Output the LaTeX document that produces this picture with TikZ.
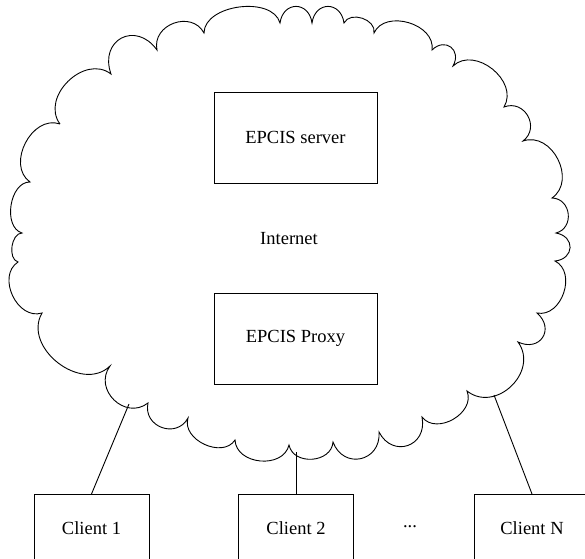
\documentclass[tikz,border=0pt]{standalone}
\usepackage{fontspec}
\setmainfont{Liberation Serif}
\usetikzlibrary{calc}
\begin{document}
\begin{tikzpicture}[x=1pt,y=-1pt,
  line width=0.9pt,
  every node/.style={font=\fontsize{18.5}{22}\selectfont},
  bigbox/.style={draw,rectangle,minimum width=163pt,minimum height=91pt,inner sep=0pt},
  clientbox/.style={draw,rectangle,minimum width=115pt,minimum height=68pt,inner sep=0pt},
  bp/.style={bend left=82,looseness=1.12*#1}]
\useasboundingbox (0,0) rectangle (585,558);
% cloud cusps
\coordinate (P1) at (60,124);
\coordinate (P2) at (111,74);
\coordinate (P3) at (157,50);
\coordinate (P4) at (204,33);
\coordinate (P5) at (280,23);
\coordinate (P6) at (312,23);
\coordinate (P7) at (344,23);
\coordinate (P8) at (374,33);
\coordinate (P9) at (432,50);
\coordinate (P10) at (453,66);
\coordinate (P11) at (504,107);
\coordinate (P12) at (523,141);
\coordinate (P13) at (552,198);
\coordinate (P14) at (556,233);
\coordinate (P15) at (555,261);
\coordinate (P16) at (537,313);
\coordinate (P17) at (518,342);
\coordinate (P18) at (467,391);
\coordinate (P19) at (422,417);
\coordinate (P20) at (379,432);
\coordinate (P21) at (333,442);
\coordinate (P22) at (289,445);
\coordinate (P23) at (235,440);
\coordinate (P24) at (188,418);
\coordinate (P25) at (148,403);
\coordinate (P26) at (110,366);
\coordinate (P27) at (42,313);
\coordinate (P28) at (18,262);
\coordinate (P29) at (22,233);
\coordinate (P30) at (30,182);
\draw (P1) to[bp=1.07] (P2) to[bp=1.6] (P3) to[bp=1.2] (P4) to[bp=0.85] (P5)
  to[bp=1.6] (P6) to[bp=1.6] (P7) to[bp=1.0] (P8) to[bp=1.0] (P9)
  to[bp=1.6] (P10) to[bp=1.05] (P11) to[bp=1.3] (P12) to[bp=1.1] (P13)
  to[bp=1.25] (P14) to[bp=1.6] (P15) to[bp=1.04] (P16) to[bp=1.6] (P17)
  to[bp=1.18] (P18) to[bp=1.04] (P19) to[bp=1.5] (P20) to[bp=1.45] (P21)
  to[bp=1.1] (P22) to[bp=1.05] (P23) to[bp=1.0] (P24) to[bp=1.3] (P25)
  to[bp=1.25] (P26) to[bp=1.05] (P27) to[bp=1.05] (P28) to[bp=0.85] (P29)
  to[bp=0.9] (P30) to[bp=1.04] (P1);
% contents
\node[bigbox] (server) at (295.5,137.5) {EPCIS server};
\node (internet) at (289,239) {Internet};
\node[bigbox] (proxy) at (295.5,338.5) {EPCIS Proxy};
\node[clientbox,anchor=north] (c1) at (91.5,494) {Client 1};
\node[clientbox,anchor=north] (c2) at (296,494) {Client 2};
\node (dots) at (410,527) {...};
\node[clientbox,anchor=north] (cn) at (532,494) {Client N};
% attachment points on the cloud
\coordinate (a1) at (129,404);
\coordinate (a2) at (296,452);
\coordinate (an) at (494,395);
\draw (c1.north) -- (a1);
\draw (c2.north) -- (a2);
\draw (cn.north) -- (an);
\end{tikzpicture}
\end{document}
